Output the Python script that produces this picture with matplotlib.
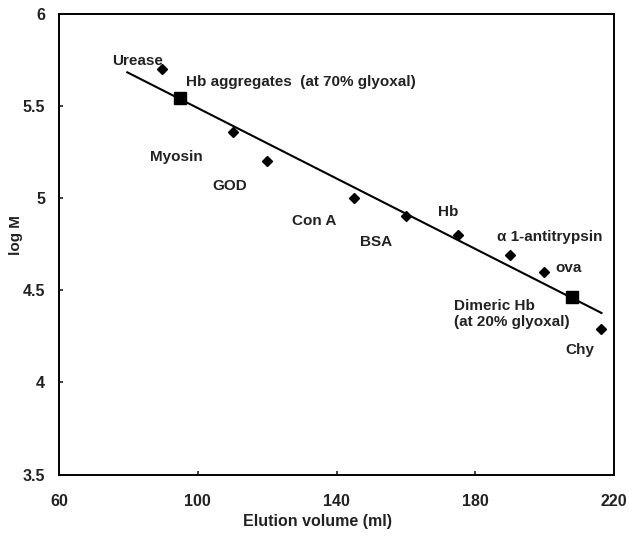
import matplotlib.pyplot as plt

plt.rcParams["font.family"] = ["Liberation Sans", "DejaVu Sans"]

# standard proteins (diamonds)
std_names = ["Urease", "Myosin", "GOD", "Con A", "BSA", "Hb", "α 1-antitrypsin", "ova", "Chy"]
std_x = [89.8, 110.1, 119.9, 145.0, 160.0, 175.1, 190.0, 199.9, 216.2]
std_logm = [5.70, 5.36, 5.20, 5.00, 4.90, 4.80, 4.69, 4.60, 4.29]

# glyoxal-treated Hb (squares)
hb_names = ["Hb aggregates  (at 70% glyoxal)", "Dimeric Hb\n(at 20% glyoxal)"]
hb_x = [94.9, 207.8]
hb_logm = [5.54, 4.46]

# calibration line end points
fit_x = [79.7, 216.4]
fit_y = [5.681, 4.376]

# label anchors (left edge, vertical centre)
lab_x = [75.3, 86.2, 104.1, 127.1, 146.8, 169.3, 186.2, 203.0, 205.9]
lab_y = [5.742, 5.22, 5.065, 4.877, 4.762, 4.922, 4.79, 4.618, 4.175]
hb_lab_x = [96.6, 173.9]
hb_lab_y = [5.63, 4.37]

fig = plt.figure(figsize=(6.29, 5.37), dpi=100)
ax = fig.add_axes([59 / 629, 1 - 474.5 / 537, 555 / 629, 461 / 537])

ax.plot(fit_x, fit_y, color="black", linewidth=1.5, zorder=2)
ax.plot(std_x, std_logm, linestyle="none", marker="D", markersize=5.6,
        color="black", zorder=3)
ax.plot(hb_x, hb_logm, linestyle="none", marker="s", markersize=8.5,
        color="black", zorder=3)

txt = dict(fontsize=11, fontweight="bold", color="#222222", ha="left", va="center")
for name, x, y in zip(std_names, lab_x, lab_y):
    ax.text(x, y, name, **txt)
for name, x, y in zip(hb_names, hb_lab_x, hb_lab_y):
    ax.text(x, y, name, linespacing=1.2, **txt)

ax.set_xlim(60, 220)
ax.set_ylim(3.5, 6)
ax.set_xticks([60, 100, 140, 180, 220])
ax.set_yticks([3.5, 4, 4.5, 5, 5.5, 6])
ax.set_yticklabels(["3.5", "4", "4.5", "5", "5.5", "6"])
ax.tick_params(direction="in", length=3, width=1.2, labelsize=11.5, colors="#222222")
ax.tick_params(axis="x", pad=14)
ax.tick_params(axis="y", pad=10)
for lab in ax.get_xticklabels() + ax.get_yticklabels():
    lab.set_fontweight("bold")
for sp in ax.spines.values():
    sp.set_linewidth(1.4)

ax.set_xlabel("Elution volume (ml)", fontsize=11.5, fontweight="bold", color="#222222", va="center")
ax.xaxis.set_label_coords(0.466, -0.102)
ax.set_ylabel("log M", fontsize=11, fontweight="bold", color="#222222", va="center", ha="center")
ax.yaxis.set_label_coords(-0.0775, 0.52)

fig.savefig("out.png", dpi=100)
